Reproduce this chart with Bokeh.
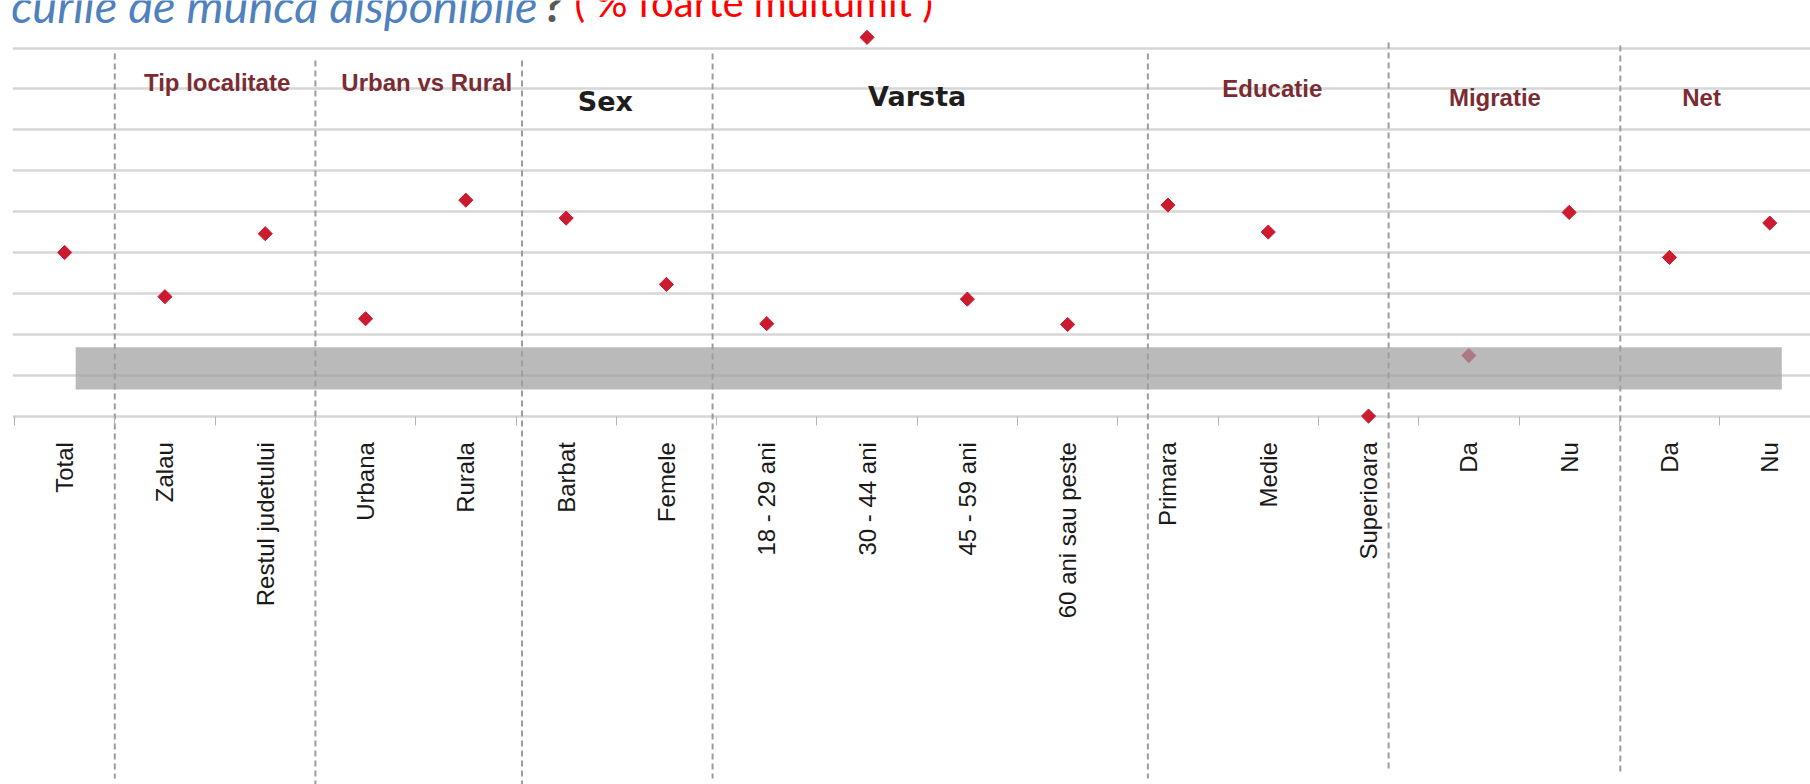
import math
from bokeh.plotting import figure
from bokeh.models import Range1d, FixedTicker, LinearAxis, Label, Grid, ColumnDataSource
from bokeh.embed import file_html
from bokeh.resources import INLINE

# ---------------- data ----------------
categories = ["Total", "Zalau", "Restul judetului", "Urbana", "Rurala", "Barbat", "Femele",
              "18 - 29 ani", "30 - 44 ani", "45 - 59 ani", "60 ani sau peste",
              "Primara", "Medie", "Superioara", "Da", "Nu", "Da", "Nu"]
values = [20.0, 14.6, 22.3, 11.9, 26.4, 24.2, 16.1,
          11.3, 46.3, 14.3, 11.2,
          25.8, 22.5, 0.0, 7.4, 24.9, 19.4, 23.6]
group_names = ["Tip localitate", "Urban vs Rural", "Sex", "Varsta", "Educatie", "Migratie", "Net"]
group_members = [[1, 2], [3, 4], [5, 6], [7, 8, 9, 10], [11, 12, 13], [14, 15], [16, 17]]
gridline_values = [0, 5, 10, 15, 20, 25, 30, 35, 40, 45]
title_parts = ["ocurile de muncă disponibile", "?", "( % foarte multumit )"]

# ---------------- layout (pixel geometry of the reference) ----------------
W, H = 1810, 784
PAGE_TOP, PAGE_LEFT = 0, 0
BORDER_LEFT = 12
X_UNIT = 100.3            # px per category
Y_UNIT = 40.9 / 5.0       # px per value unit
BASE_PAGE_Y = 415.6       # picture y of value 0
FIRST_EDGE_PAGE_X = 14.0  # picture x of left edge of first category band


def vx(page_x):
    return (page_x - FIRST_EDGE_PAGE_X) / X_UNIT - 0.5


def vy(page_y):
    return (BASE_PAGE_Y - page_y) / Y_UNIT


x_start = vx(PAGE_LEFT + BORDER_LEFT)
x_end = vx(PAGE_LEFT + W)
y_end = vy(PAGE_TOP)
y_start = vy(PAGE_TOP + H)

p = figure(width=W, height=H, output_backend="svg", toolbar_location=None,
           x_axis_type=None, y_axis_type=None,
           x_range=Range1d(x_start, x_end), y_range=Range1d(y_start, y_end),
           min_border_left=BORDER_LEFT, min_border_right=0,
           min_border_top=0, min_border_bottom=0)
p.outline_line_color = None
p.background_fill_color = "white"
p.border_fill_color = "white"

# horizontal gridlines
grid = Grid(dimension=1, ticker=FixedTicker(ticks=gridline_values),
            grid_line_color="#d6d6d6", grid_line_width=2.5)
p.add_layout(grid)

# dashed group separators
sep_x = [0.50, 2.50, 4.56, 6.46, 10.80, 13.20, 15.51]
sep_top_page = [53, 60, 60, 53, 53, 42, 45]
sep_bottom_page = [778, 784, 784, 778, 778, 768, 771]
p.segment(x0=sep_x, x1=sep_x, y0=[vy(t) for t in sep_top_page],
          y1=[vy(b) for b in sep_bottom_page],
          line_color="#9c9c9c", line_width=2, line_dash="6 4")

# data points
src = ColumnDataSource(dict(x=list(range(len(categories))), y=values, cat=categories))
p.scatter(x="x", y="y", source=src, marker="square", angle=math.pi / 4,
          size=10, fill_color="#cc1a2f", line_color="#cc1a2f")

# translucent grey band
p.quad(left=[0.11], right=[17.12], top=[vy(346.7)], bottom=[vy(389.0)],
       fill_color="#a0a0a0", fill_alpha=0.72, line_color=None)

# axis with boundary ticks
tick_axis = LinearAxis(fixed_location=0,
                       ticker=FixedTicker(ticks=[i - 0.5 for i in range(len(categories) + 1)]),
                       axis_line_color=None, major_tick_line_color="#b4b4b4",
                       major_tick_line_width=1, major_tick_in=0, major_tick_out=9,
                       minor_tick_line_color=None, major_label_text_font_size="0px",
                       major_label_text_color=None)
p.add_layout(tick_axis, "below")

# axis with category labels
label_axis = LinearAxis(fixed_location=0,
                        ticker=FixedTicker(ticks=list(range(len(categories)))),
                        axis_line_color=None, major_tick_line_color=None,
                        minor_tick_line_color=None,
                        major_label_overrides={i: c for i, c in enumerate(categories)},
                        major_label_orientation=math.pi / 2,
                        major_label_standoff=20,
                        major_label_text_font="Liberation Sans",
                        major_label_text_font_size="24px",
                        major_label_text_color="#1a1a1a")
p.add_layout(label_axis, "below")

# group headings
group_dx = [0.02, 0.11, -0.11, 0.0, 0.04, -0.24, -0.18]
group_baseline_page = [81.5, 81.5, 100.5, 96.0, 88.3, 97.3, 97.3]
group_dark = [False, False, True, True, False, False, False]
for name, members, dx, by, dark in zip(group_names, group_members, group_dx,
                                        group_baseline_page, group_dark):
    cx = sum(members) / len(members) + dx
    if dark:
        lab = Label(x=cx, y=vy(by), text=name, text_align="center",
                    text_baseline="alphabetic", text_font="DejaVu Sans",
                    text_font_style="bold", text_font_size="27px", text_color="#1e1e1e")
    else:
        lab = Label(x=cx, y=vy(by), text=name, text_align="center",
                    text_baseline="alphabetic", text_font="Liberation Sans",
                    text_font_style="bold", text_font_size="24px", text_color="#7b2c33")
    p.add_layout(lab)

# title (its top is cut by the picture edge, as in the reference)
title_base = vy(4)
p.add_layout(Label(x=vx(537), y=title_base, text=title_parts[0], text_align="right",
                   text_baseline="alphabetic", text_font="Lato",
                   text_font_style="italic", text_font_size="47px", text_color="#4f81bd"))
p.add_layout(Label(x=vx(542), y=title_base, text=title_parts[1], text_align="left",
                   text_baseline="alphabetic", text_font="Lato",
                   text_font_style="bold", text_font_size="46px", text_color="#595959"))
p.add_layout(Label(x=vx(574), y=title_base + 0.3, text=title_parts[2], text_align="left",
                   text_baseline="alphabetic", text_font="Lato",
                   text_font_size="40px", text_color="#ff0000"))

open("out.html", "w").write(file_html(p, INLINE))
